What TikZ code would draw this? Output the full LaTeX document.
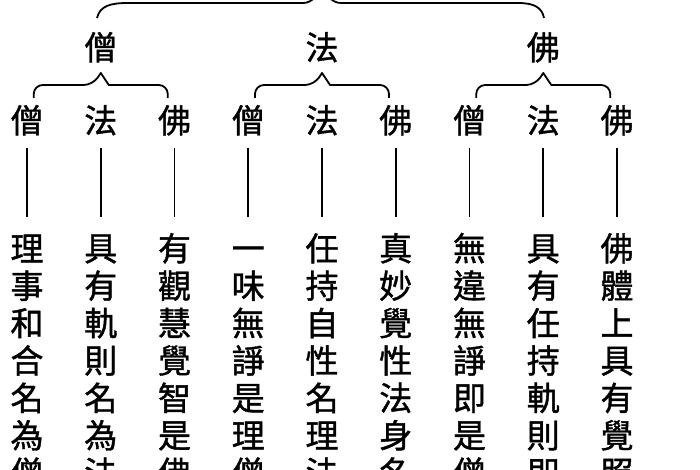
\documentclass[tikz,border=0pt]{standalone}
\usepackage{fontspec}
\newfontfamily\cjk{Noto Sans CJK TC}[FakeBold=1.2]
\usepackage{tikz}

\begin{document}
\begin{tikzpicture}[
        x=1pt, y=-1pt,
        % ===== Estilos =====
        zi/.style={font=\cjk\fontsize{33}{33}\selectfont, inner sep=0pt, outer sep=0pt,
                   text height=0.88em, text depth=0.12em, anchor=center, yshift=-8pt},
        kuo/.style={line width=1.8pt, line join=round},
        shu/.style={line width=1.8pt, shorten <=27pt, shorten >=32pt}
    ]
        \useasboundingbox (0,0) rectangle (700,470);
        \clip (0,0) rectangle (700,470);

        % ===== Fila superior =====
        \foreach \g/\cx/\zi in {1/100.75/僧, 2/322/法, 3/543.25/佛}{
            \node[zi] (g\g) at (\cx,48) {\zi};
        }

        % ===== Llave superior (pico fuera del recorte) =====
        \draw[kuo] (97,18) .. controls (100,6) and (110,3) .. (128,3)
            -- (303,3) .. controls (312,3) and (318,-5) .. (322,-14)
            .. controls (326,-5) and (332,3) .. (341,3)
            -- (518,3) .. controls (535,3) and (542,8) .. (544,18);

        % ===== Llaves medias =====
        \foreach \g/\cx in {1/100.75, 2/322, 3/543.25}{
            \draw[kuo] (\cx-67,98) [rounded corners=9pt] -- (\cx-67,85) -- (\cx-8,85)
                [sharp corners] -- (\cx,73) -- (\cx+8,85)
                [rounded corners=9pt] -- (\cx+67,85) -- (\cx+67,98);
        }

        % ===== Columnas: etiqueta, trazo y texto vertical =====
        \foreach \i/\zi/\texto in {%
            1/僧/{理,事,和,合,名,為,僧},
            2/法/{具,有,軌,則,名,為,法},
            3/佛/{有,觀,慧,覺,智,是,佛},
            4/僧/{一,味,無,諍,是,理,僧},
            5/法/{任,持,自,性,名,理,法},
            6/佛/{真,妙,覺,性,法,身,名},
            7/僧/{無,違,無,諍,即,是,僧},
            8/法/{具,有,任,持,軌,則,即},
            9/佛/{佛,體,上,具,有,覺,照}%
        }{
            \pgfmathsetmacro{\xc}{27+73.75*(\i-1)}
            \node[zi] (s\i) at (\xc,121) {\zi};
            \foreach \c [count=\k] in \texto {
                \node[zi] (t\i-\k) at (\xc,{249+37.4*(\k-1)}) {\c};
            }
            \draw[shu] ([yshift=8pt]s\i.center) -- ([yshift=8pt]t\i-1.center);
        }
    \end{tikzpicture}
\end{document}
